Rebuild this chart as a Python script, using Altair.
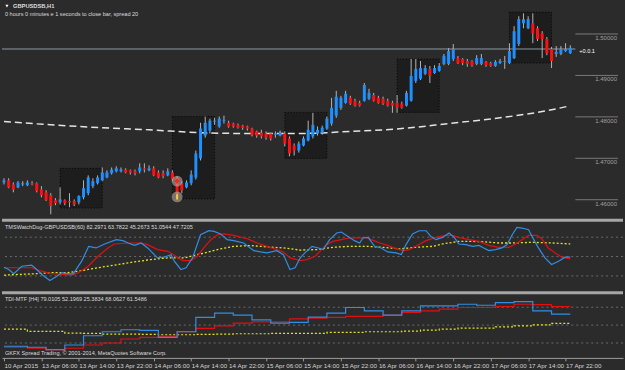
import altair as alt
import pandas as pd

# ---------------- main panel data (GBPUSDSB, H1) ----------------
bars = list(range(122))
opens = [1.4649,1.4654,1.4644,1.4637,1.4644,1.4642,1.4647,1.4647,1.4632,1.4625,
         1.4618,1.4606,1.4601,1.4606,1.4604,1.4604,1.4601,1.4613,1.4623,1.4640,
         1.4647,1.4654,1.4661,1.4671,1.4676,1.4676,1.4680,1.4678,1.4676,1.4676,
         1.4683,1.4678,1.4683,1.4673,1.4671,1.4666,1.4673,1.4659,1.4647,1.4637,
         1.4647,1.4661,1.4707,1.4762,1.4774,1.4796,1.4784,1.4798,1.4793,1.4791,
         1.4788,1.4786,1.4784,1.4779,1.4772,1.4769,1.4767,1.4767,1.4764,1.4762,
         1.4767,1.4755,1.4738,1.4726,1.4738,1.4750,1.4760,1.4767,1.4769,1.4779,
         1.4791,1.4810,1.4829,1.4841,1.4853,1.4846,1.4841,1.4846,1.4851,1.4860,
         1.4853,1.4851,1.4846,1.4841,1.4841,1.4839,1.4834,1.4846,1.4894,1.4899,
         1.4911,1.4923,1.4913,1.4918,1.4935,1.4935,1.4947,1.4949,1.4947,1.4942,
         1.4942,1.4935,1.4935,1.4940,1.4937,1.4930,1.4937,1.4940,1.4937,1.4949,
         1.4983,1.5033,1.5021,1.5033,1.5021,1.5009,1.4995,1.4971,1.4959,1.4959,
         1.4966,1.4961]
closes = [1.4654,1.4637,1.4632,1.4649,1.4647,1.4649,1.4644,1.4628,1.4618,1.4606,
          1.4592,1.4599,1.4608,1.4599,1.4601,1.4596,1.4616,1.4635,1.4661,1.4652,
          1.4661,1.4673,1.4673,1.4680,1.4683,1.4680,1.4673,1.4673,1.4671,1.4685,
          1.4680,1.4683,1.4666,1.4661,1.4664,1.4676,1.4656,1.4623,1.4630,1.4649,
          1.4668,1.4719,1.4779,1.4793,1.4798,1.4798,1.4803,1.4800,1.4784,1.4784,
          1.4781,1.4781,1.4779,1.4764,1.4762,1.4760,1.4757,1.4755,1.4767,1.4769,
          1.4743,1.4719,1.4726,1.4743,1.4755,1.4776,1.4788,1.4776,1.4781,1.4803,
          1.4829,1.4856,1.4853,1.4863,1.4839,1.4834,1.4834,1.4884,1.4865,1.4846,
          1.4841,1.4839,1.4834,1.4834,1.4829,1.4829,1.4865,1.4906,1.4923,1.4925,
          1.4925,1.4906,1.4925,1.4930,1.4954,1.4966,1.4971,1.4937,1.4937,1.4935,
          1.4930,1.4949,1.4949,1.4932,1.4930,1.4940,1.4942,1.4942,1.4966,1.5014,
          1.5043,1.5043,1.5043,1.5009,1.4995,1.4995,1.4961,1.4942,1.4964,1.4971,
          1.4971,1.4974]
highs = [1.4659,1.4659,1.4649,1.4652,1.4652,1.4654,1.4652,1.4649,1.4640,1.4630,
         1.4623,1.4611,1.4637,1.4608,1.4623,1.4608,1.4618,1.4654,1.4666,1.4659,
         1.4666,1.4685,1.4678,1.4685,1.4688,1.4685,1.4683,1.4680,1.4680,1.4695,
         1.4695,1.4690,1.4688,1.4678,1.4678,1.4683,1.4678,1.4664,1.4652,1.4654,
         1.4678,1.4726,1.4793,1.4808,1.4803,1.4805,1.4808,1.4810,1.4798,1.4793,
         1.4791,1.4788,1.4786,1.4781,1.4774,1.4776,1.4772,1.4769,1.4772,1.4774,
         1.4772,1.4760,1.4743,1.4748,1.4760,1.4798,1.4817,1.4784,1.4786,1.4808,
         1.4853,1.4870,1.4858,1.4870,1.4858,1.4851,1.4846,1.4889,1.4875,1.4865,
         1.4858,1.4856,1.4851,1.4846,1.4860,1.4844,1.4870,1.4947,1.4947,1.4942,
         1.4932,1.4930,1.4932,1.4937,1.4959,1.4973,1.4983,1.4954,1.4949,1.4947,
         1.4944,1.4956,1.4959,1.4942,1.4940,1.4944,1.4947,1.4954,1.4985,1.5026,
         1.5050,1.5057,1.5050,1.5057,1.5026,1.5014,1.5000,1.4976,1.4978,1.4978,
         1.4985,1.4980]
lows = [1.4644,1.4635,1.4625,1.4635,1.4640,1.4640,1.4642,1.4625,1.4613,1.4604,
        1.4572,1.4594,1.4596,1.4594,1.4589,1.4592,1.4596,1.4608,1.4618,1.4635,
        1.4644,1.4652,1.4659,1.4668,1.4673,1.4673,1.4671,1.4668,1.4666,1.4671,
        1.4673,1.4676,1.4664,1.4659,1.4659,1.4664,1.4652,1.4611,1.4623,1.4635,
        1.4642,1.4656,1.4702,1.4757,1.4767,1.4788,1.4781,1.4791,1.4781,1.4781,
        1.4779,1.4776,1.4774,1.4760,1.4757,1.4755,1.4752,1.4750,1.4757,1.4760,
        1.4736,1.4712,1.4714,1.4721,1.4736,1.4748,1.4755,1.4762,1.4764,1.4776,
        1.4786,1.4805,1.4824,1.4839,1.4836,1.4832,1.4832,1.4844,1.4848,1.4844,
        1.4839,1.4836,1.4832,1.4817,1.4817,1.4827,1.4832,1.4844,1.4889,1.4896,
        1.4908,1.4889,1.4911,1.4916,1.4932,1.4932,1.4942,1.4935,1.4932,1.4928,
        1.4928,1.4932,1.4932,1.4928,1.4928,1.4928,1.4935,1.4923,1.4935,1.4947,
        1.4978,1.5021,1.5019,1.4985,1.4990,1.4949,1.4956,1.4925,1.4952,1.4956,
        1.4964,1.4959]

ma_bars = [0, 10, 21, 31, 42, 53, 63, 74, 85, 95, 106, 116, 121]
ma_vals = [1.4796, 1.4788, 1.4781, 1.4776, 1.4769, 1.4767, 1.4767,
           1.4772, 1.4779, 1.4791, 1.4805, 1.4822, 1.4834]

box_start = [12, 36, 60, 84, 108]
box_end = [21, 45, 69, 93, 117]
box_high = [1.4683, 1.4808, 1.4818, 1.4947, 1.5060]
box_low = [1.4587, 1.4609, 1.4707, 1.4818, 1.4937]

marker_bar = [37, 37]
marker_price = [1.4652, 1.4614]
marker_kind = ["sell", "close"]

bid_price = 1.4971
bid_label = "+0.0.1"
price_ticks = [1.46, 1.47, 1.48, 1.49, 1.50]
price_labels = ["1.46000", "1.47000", "1.48000", "1.49000", "1.50000"]
symbol_text = "GBPUSDSB,H1"
info_text = "0 hours 0 minutes e 1 seconds to close bar, spread 20"

# ---------------- indicator 1: TMSWatchDog ----------------
wd_title = "TMSWatchDog-GBPUSDSB(60) 82.2971 63.7822 45.2673 51.0544 47.7205"
wd_blue_x = [0,1.0,2.1,3.8,5.9,6.6,8.1,9.8,11.3,12.3,13.7,14.8,16.6,18.1,19.7,21.5,24.0,25.4,26.5,27.9,
             29.3,30.7,32.8,34.2,35.7,36.4,37.8,38.9,40.3,42.0,43.8,44.9,46.3,47.7,49.1,51.2,53.4,54.8,56.2,58.3,
             59.7,61.1,62.2,63.3,64.3,65.8,67.2,68.2,69.6,71.1,72.1,73.5,74.9,76.0,76.7,77.8,79.2,80.6,82.0,83.8,
             84.9,85.9,87.3,88.7,90.2,91.2,92.3,93.7,95.1,96.2,97.2,98.7,100.1,101.5,102.5,103.6,105.0,106.4,107.5,108.6,
             109.6,110.7,112.1,113.2,114.2,115.6,117.0,118.5,119.9,121.0]
wd_blue_v = [40.1,38.0,34.0,41.0,42.0,39.6,33.4,27.8,31.8,35.0,34.0,34.0,45.7,59.5,58.0,61.7,65.7,64.8,62.6,60.4,
             62.6,58.0,48.8,49.4,51.8,45.7,38.0,39.6,48.8,70.3,74.0,73.4,71.0,65.7,64.8,62.6,55.5,54.3,53.4,55.5,
             51.8,38.0,39.6,48.8,53.4,59.5,58.0,56.5,65.7,71.9,72.8,68.7,64.8,62.6,67.3,67.8,59.5,58.0,54.3,53.4,
             51.8,61.1,71.0,74.0,74.0,68.7,65.7,67.8,71.9,67.8,61.7,61.1,59.5,60.4,58.0,55.5,56.5,58.0,61.1,70.3,
             77.0,76.5,74.9,65.7,58.0,48.8,42.6,45.7,49.4,49.4]
wd_red_x = [0,3.1,5.9,8.1,10.2,12.3,14.4,15.9,18.0,20.1,22.2,23.6,26.5,29.3,30.7,32.8,35.0,36.4,38.2,39.9,
            41.3,42.7,44.2,45.6,47.0,49.1,52.0,54.1,56.2,58.3,59.7,61.1,62.6,63.3,64.7,66.5,67.5,68.9,70.3,72.1,
            73.9,76.0,77.4,78.5,80.3,82.0,83.4,84.5,85.6,86.6,88.0,90.2,92.3,94.4,95.8,97.2,99.4,101.5,103.6,105.7,
            107.9,109.3,110.7,112.1,113.9,114.9,116.3,117.8,119.2,121.0]
wd_red_v = [39.6,39.6,39.6,36.4,34.0,33.4,32.7,35.0,41.0,50.3,58.0,61.7,62.6,62.6,61.1,56.5,54.9,51.2,46.3,46.3,
            50.3,58.0,65.7,70.3,71.0,69.7,66.6,62.6,59.5,56.5,54.3,48.8,47.2,46.3,47.2,50.3,54.9,61.1,64.1,65.7,
            67.3,67.3,67.8,65.7,62.6,60.4,58.0,56.5,55.5,56.5,59.5,64.8,67.8,69.7,69.7,67.8,65.7,64.1,60.4,58.6,
            58.6,61.7,65.7,69.7,69.7,66.6,58.0,53.4,49.4,47.9]
wd_yel_x = [0,3.1,6.6,10.2,13.7,15.9,18.0,20.8,24.4,27.9,31.4,35.0,38.5,42.0,45.6,49.1,52.7,56.2,59.7,63.3,
            66.8,70.3,73.9,77.4,81.0,84.5,88.0,91.6,93.7,97.2,100.1,102.9,105.7,108.6,112.8,117.2,121.0]
wd_yel_v = [32.7,33.4,34.0,35.0,35.0,36.4,38.0,40.1,42.6,45.1,47.2,48.8,48.8,52.5,56.5,59.5,60.2,59.0,58.0,56.0,
            56.5,58.6,59.5,59.5,58.6,57.1,58.6,59.5,61.7,64.1,64.1,63.6,62.6,62.6,63.2,62.6,61.7]
levels = [68, 50, 32]

# ---------------- indicator 2: TDI-MTF [H4] ----------------
tdi_title = "TDI-MTF [H4] 79.0105 52.1969 25.3834 68.0627 61.5486"
copyright_text = "GKFX Spread Trading, \u00a9 2001-2014, MetaQuotes Software Corp."
tdi_x = [0,1,5,9,13,17,21,25,29,33,37,41,45,49,53,57,61,65,69,73,77,81,85,89,93,97,101,105,109,113,117,121]
tdi_blue = [28.7,28.7,27.7,25.3,30.0,39.3,43.3,45.3,44.7,37.7,43.3,57.7,62.0,60.0,55.3,52.0,52.7,58.0,62.0,67.7,
            64.3,60.0,64.3,69.3,69.3,71.0,70.0,72.7,73.7,64.3,61.0,61.0]
tdi_red = [27.7,27.7,26.7,25.0,26.7,30.0,32.0,36.0,37.7,38.7,43.3,46.7,49.3,52.0,53.3,53.3,56.3,57.0,57.7,58.7,
           58.7,60.0,62.7,64.3,66.0,67.7,67.7,68.7,71.0,70.7,68.7,68.7]
tdi_yel = [46.0,46.0,43.7,43.7,42.0,41.7,41.0,41.0,40.7,40.3,40.3,40.7,41.0,41.3,41.3,41.7,41.7,41.7,42.7,42.7,
           43.3,43.3,44.0,45.0,46.0,47.0,47.0,48.3,49.3,50.3,51.7,51.7]

tick_bars = [0, 8, 16, 24, 32, 40, 48, 56, 64, 72, 80, 88, 96, 104, 112, 120]
tick_labels = ["10 Apr 2015", "13 Apr 06:00", "13 Apr 14:00", "13 Apr 22:00", "14 Apr 06:00",
               "14 Apr 14:00", "14 Apr 22:00", "15 Apr 06:00", "15 Apr 14:00", "15 Apr 22:00",
               "16 Apr 06:00", "16 Apr 14:00", "16 Apr 22:00", "17 Apr 06:00", "17 Apr 14:00",
               "17 Apr 22:00"]

# ---------------- styling ----------------
BG = "#2b2b2b"
FONT = "Liberation Sans"
TXT = "#dcdcdc"
SEP = "#a6a6a6"
W, H1, H2, H3 = 625, 219, 73, 67
XS = alt.Scale(domain=[-0.4246, 132.27], nice=False, zero=False)
PY = alt.Scale(domain=[1.45612, 1.50864], nice=False, zero=False)
Y2S = alt.Scale(domain=[17.7, 85.1], nice=False, zero=False)
Y3S = alt.Scale(domain=[17.0, 84.0], nice=False, zero=False)


def X(field):
    return alt.X(field, type="quantitative", scale=XS, axis=None)


def PYe(field):
    return alt.Y(field, type="quantitative", scale=PY, axis=None)


# ---------------- panel 1 ----------------
candles = pd.DataFrame({"bar": bars, "o": opens, "c": closes, "h": highs, "l": lows})
candles["dir"] = ["up" if c >= o else "down" for o, c in zip(opens, closes)]
boxes = pd.DataFrame({"s": box_start, "e": box_end, "hi": box_high, "lo": box_low})
ma = pd.DataFrame({"bar": ma_bars, "v": ma_vals})
marks = pd.DataFrame({"bar": marker_bar, "p": marker_price, "k": marker_kind})
scale_df = pd.DataFrame({"p": price_ticks, "t": price_labels})

box_layer = alt.Chart(boxes).mark_rect(fill="#1d1d1d", stroke="#050505", strokeDash=[1, 2],
                                         strokeWidth=1).encode(
    x=X("s"), x2="e", y=PYe("hi"), y2="lo")
scale_rule = alt.Chart(scale_df).mark_rule(color="#7a7a7a", strokeWidth=1, yOffset=-3).encode(
    y=PYe("p"), x=alt.value(577), x2=alt.value(620))
scale_text = alt.Chart(scale_df).mark_text(
    align="right", baseline="middle", dy=1, font=FONT, fontSize=6.1, color="#a0a0a0").encode(
    y=PYe("p"), x=alt.value(619), text="t:N")
bid_layer = alt.Chart(pd.DataFrame({"p": [bid_price]})).mark_rule(color="#8d98a3", strokeWidth=1).encode(
    y=PYe("p"), x=alt.value(0), x2=alt.value(577))
bid_text = alt.Chart(pd.DataFrame({"p": [bid_price], "t": [bid_label]})).mark_text(
    align="left", baseline="middle", dy=2, font=FONT, fontSize=5.6, color="#ffffff").encode(
    y=PYe("p"), x=alt.value(581), text="t:N")
ma_layer = alt.Chart(ma).mark_line(color="#e4e4e4", strokeWidth=1.5, strokeDash=[7, 4],
                                   interpolate="monotone").encode(x=X("bar"), y=PYe("v"))
wick_layer = alt.Chart(candles).mark_rule(color="#b4b4b4", strokeWidth=1).encode(
    x=X("bar"), y=PYe("l"), y2="h")
body_layer = alt.Chart(candles).mark_rule(strokeWidth=3, strokeCap="butt").encode(
    x=X("bar"), y=PYe("o"), y2="c",
    color=alt.Color("dir:N", scale=alt.Scale(domain=["up", "down"], range=["#1e90ff", "#ff1010"]),
                    legend=None))
circ_layer = alt.Chart(marks).mark_circle(size=120, color="#c0aca2", opacity=0.6).encode(
    x=X("bar"), y=PYe("p"))
cross_layer = alt.Chart(marks[marks.k == "sell"]).mark_point(shape="cross", filled=True, size=22,
                                                               color="#ff2020", opacity=1).encode(
    x=X("bar"), y=PYe("p"))
close_layer = alt.Chart(marks[marks.k == "close"]).mark_point(shape="M0,-1L0,1", size=28,
                                                                strokeWidth=2, color="#ffc830",
                                                                opacity=1).encode(
    x=X("bar"), y=PYe("p"))
tri = alt.Chart(pd.DataFrame({"a": [0]})).mark_point(shape="triangle-down", filled=True, size=10,
                                                     color="#ffffff", opacity=1).encode(
    x=alt.value(5), y=alt.value(5))
sym = alt.Chart(pd.DataFrame({"t": [symbol_text]})).mark_text(
    align="left", baseline="middle", font=FONT, fontSize=5.8, fontWeight="bold", color=TXT).encode(
    x=alt.value(11), y=alt.value(5), text="t:N")
info = alt.Chart(pd.DataFrame({"t": [info_text]})).mark_text(
    align="left", baseline="middle", font=FONT, fontSize=5.6, color=TXT).encode(
    x=alt.value(3), y=alt.value(13), text="t:N")

panel1 = alt.layer(box_layer, scale_rule, scale_text, bid_layer, bid_text, ma_layer, wick_layer,
                   body_layer, circ_layer, cross_layer, close_layer, tri, sym, info
                   ).properties(width=W, height=H1)


# ---------------- panel 2 ----------------
def sep():
    return alt.Chart(pd.DataFrame({"a": [0]})).mark_rule(color=SEP, strokeWidth=3).encode(
        x=alt.value(0), x2=alt.value(W), y=alt.value(1.5))


def level_layer(scale):
    return alt.Chart(pd.DataFrame({"lv": levels})).mark_rule(
        color="#6c6c6c", strokeDash=[2, 3], strokeWidth=1).encode(
        y=alt.Y("lv:Q", scale=scale, axis=None))


def series(xs, vs, color, scale, dash=None, width=1.2):
    df = pd.DataFrame({"x": xs, "v": vs})
    kw = dict(color=color, strokeWidth=width)
    if dash:
        kw["strokeDash"] = dash
    return alt.Chart(df).mark_line(**kw).encode(
        x=X("x"), y=alt.Y("v:Q", scale=scale, axis=None))


def label(text, y):
    return alt.Chart(pd.DataFrame({"t": [text]})).mark_text(
        align="left", baseline="middle", font=FONT, fontSize=5.6, color=TXT).encode(
        x=alt.value(3), y=alt.value(y), text="t:N")


panel2 = alt.layer(
    level_layer(Y2S),
    series(wd_yel_x, wd_yel_v, "#e5e51a", Y2S, dash=[2, 2], width=1.3),
    series(wd_red_x, wd_red_v, "#e01010", Y2S),
    series(wd_blue_x, wd_blue_v, "#2f8fe6", Y2S),
    sep(),
    label(wd_title, 8),
).properties(width=W, height=H2)

# ---------------- panel 3 ----------------
label_expr = "[" + ",".join("'" + s + "'" for s in tick_labels) + "][round(datum.value / 8)]"
time_axis = alt.Axis(values=tick_bars, labelExpr=label_expr, labelAlign="left", labelPadding=2,
                     tickSize=3, tickColor="#9c9c9c", domainColor="#9c9c9c", labelColor="#d4d4d4",
                     labelFont=FONT, labelFontSize=6.3, labelOverlap=False, labelFlush=False,
                     labelBound=False, grid=False, title=None)

tdi_lines = []
for vals, col, dash in [(tdi_yel, "#e5e51a", [2, 2]), (tdi_red, "#e01010", None), (tdi_blue, "#2f8fe6", None)]:
    df = pd.DataFrame({"x": tdi_x, "v": vals})
    kw = dict(color=col, strokeWidth=1.2, interpolate="step-after")
    if dash:
        kw["strokeDash"] = dash
    tdi_lines.append(alt.Chart(df).mark_line(**kw).encode(
        x=alt.X("x:Q", scale=XS, axis=time_axis), y=alt.Y("v:Q", scale=Y3S, axis=None)))

panel3 = alt.layer(
    level_layer(Y3S),
    *tdi_lines,
    sep(),
    label(tdi_title, 8),
    label(copyright_text, 62),
).properties(width=W, height=H3)

chart = alt.vconcat(panel1, panel2, panel3, spacing=0).properties(
    padding=0, background=BG
).configure_view(stroke=None)

chart.save("out.html", embed_options={"renderer": "svg", "actions": False})
